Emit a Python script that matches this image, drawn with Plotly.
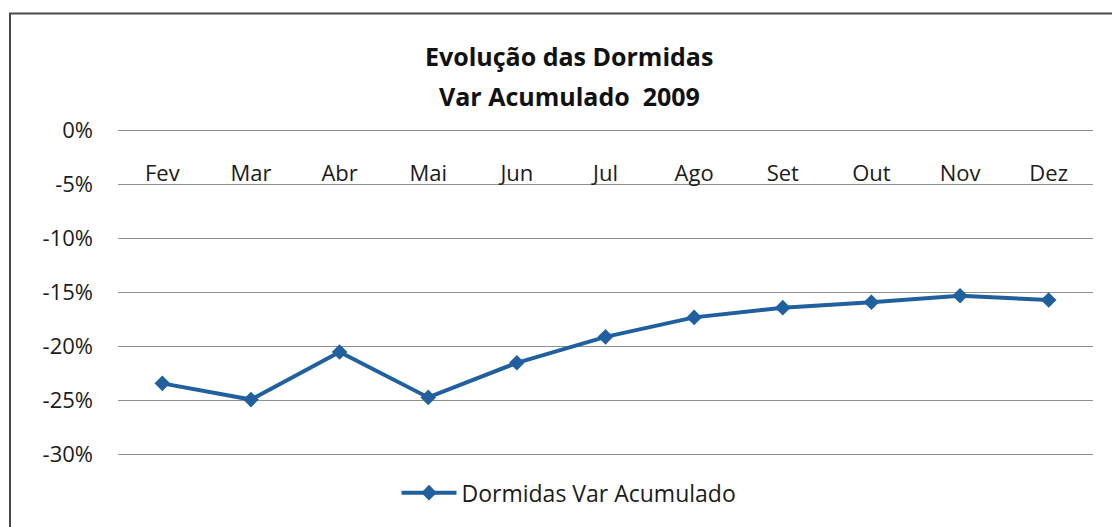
import plotly.graph_objects as go

months = ["Fev", "Mar", "Abr", "Mai", "Jun", "Jul", "Ago", "Set", "Out", "Nov", "Dez"]
var_acum = [-0.234, -0.249, -0.205, -0.247, -0.215, -0.191, -0.173, -0.164, -0.159, -0.153, -0.157]
y_ticks = [0, -0.05, -0.10, -0.15, -0.20, -0.25, -0.30]
y_tick_text = ["0%", "-5%", "-10%", "-15%", "-20%", "-25%", "-30%"]
title_lines = ["Evolução das Dormidas", "Var Acumulado  2009"]

LINE = "#21609F"
FONT = "'Open Sans', sans-serif"
TXT = "#1b1b1b"

W, H = 1112, 527
L, R, T, B = 118, 19, 126.75, 68.75
pw, ph = W - L - R, H - T - B


def px_x(px):
    return (px - L) / pw


def px_y(py):
    return (H - B - py) / ph


fig = go.Figure()
fig.add_trace(go.Scatter(
    x=months, y=var_acum, mode="lines+markers",
    name="Dormidas Var Acumulado",
    line=dict(color=LINE, width=4),
    marker=dict(symbol="diamond", size=12, color=LINE),
))

annotations = [
    dict(text="<b>%s</b>" % title_lines[0], xref="paper", yref="paper",
         x=px_x(569), y=px_y(56), xanchor="center", yanchor="middle",
         showarrow=False, font=dict(family=FONT, size=25, color="#111111")),
    dict(text="<b>%s</b>" % title_lines[1], xref="paper", yref="paper",
         x=px_x(569), y=px_y(96), xanchor="center", yanchor="middle",
         showarrow=False, font=dict(family=FONT, size=25, color="#111111")),
]

fig.update_layout(
    width=W, height=H,
    margin=dict(l=L, r=R, t=T, b=B, autoexpand=False),
    paper_bgcolor="white", plot_bgcolor="white",
    font=dict(family=FONT, color=TXT, size=21),
    showlegend=True,
    legend=dict(
        orientation="h", x=px_x(569), xanchor="center",
        y=px_y(493), yanchor="middle",
        font=dict(size=23, color=TXT),
        itemwidth=55, bgcolor="rgba(0,0,0,0)",
    ),
    xaxis=dict(
        type="category", range=[-0.5, 10.5],
        anchor="free", position=px_y(158),
        showline=False, showgrid=False, zeroline=False,
        ticks="", tickfont=dict(size=22),
    ),
    yaxis=dict(
        range=[-0.303, 0.003], tickvals=y_ticks, ticktext=y_tick_text,
        showgrid=True, gridcolor="#8f8f8f", gridwidth=1,
        zeroline=False, showline=False, ticks="",
        ticklabelstandoff=24, tickfont=dict(size=22),
    ),
    annotations=annotations,
    shapes=[dict(
        type="rect", xref="paper", yref="paper",
        x0=px_x(10), x1=px_x(1140),
        y0=px_y(560), y1=px_y(13),
        line=dict(color="#4a4a4a", width=2), fillcolor="rgba(0,0,0,0)",
        layer="below",
    )],
)

fig.write_html("out.html", config={"displayModeBar": False},
               post_script="document.body.style.margin='0px';")
